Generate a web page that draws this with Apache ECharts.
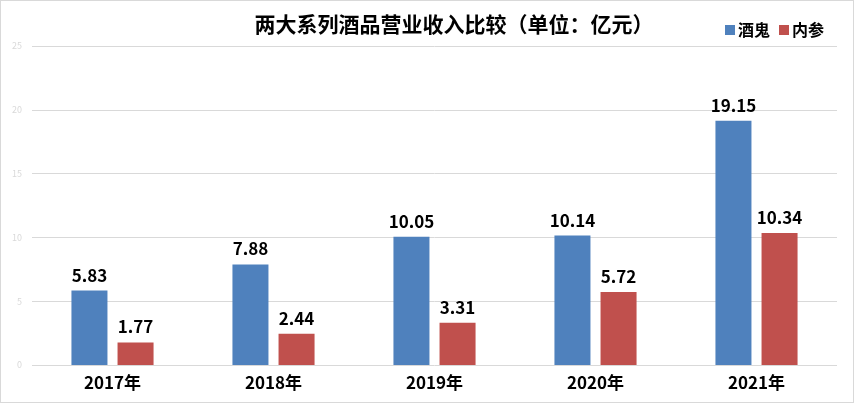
<!DOCTYPE html>
<html>
<head>
<meta charset="utf-8">
<script src="https://cdn.jsdelivr.net/npm/echarts@6/dist/echarts.min.js"></script>
<style>
html, body { margin: 0; padding: 0; background: #fff; }
#chart { width: 852px; height: 401px; border: 1px solid #d9d9d9; }
</style>
</head>
<body>
<div id="chart"></div>
<script>
var years = ['2017年', '2018年', '2019年', '2020年', '2021年'];
var jiugui = [5.83, 7.88, 10.05, 10.14, 19.15];
var neican = [1.77, 2.44, 3.31, 5.72, 10.34];
var seriesNames = ['酒鬼', '内参'];

var labelStyle = {
	show: true,
	position: 'top',
	distance: 7,
	color: '#000',
	fontSize: 17,
	fontWeight: 'bold',
	fontFamily: 'Noto Sans CJK SC'
};

var option = {
	animation: false,
	textStyle: { fontFamily: 'Noto Sans CJK SC' },
	title: {
		text: '两大系列酒品营业收入比较（单位：亿元）',
		left: 448,
		textAlign: 'center',
		top: 8,
		textStyle: { fontSize: 21, fontWeight: 'bold', color: '#000' }
	},
	legend: {
		data: seriesNames,
		right: 24,
		top: 16,
		itemWidth: 10,
		itemHeight: 10,
		itemGap: 9,
		icon: 'rect',
		textStyle: { fontSize: 16, fontWeight: 'bold', color: '#000', padding: [0, 0, 0, -2] }
	},
	grid: { left: 31, right: 16, top: 45, bottom: 37 },
	xAxis: {
		type: 'category',
		data: years,
		axisLine: { show: false },
		axisTick: { show: false },
		axisLabel: { fontSize: 17, fontWeight: 'bold', color: '#000', margin: 9 }
	},
	yAxis: {
		type: 'value',
		min: 0,
		max: 25,
		interval: 5,
		axisLabel: { fontSize: 9, color: '#d9d9d9', margin: 10 },
		splitLine: { lineStyle: { color: '#d9d9d9', width: 1 } }
	},
	series: [
		{
			name: seriesNames[0],
			type: 'bar',
			data: jiugui,
			barGap: '28%',
			barCategoryGap: '49%',
			itemStyle: { color: '#4f81bd' },
			label: labelStyle
		},
		{
			name: seriesNames[1],
			type: 'bar',
			data: neican,
			itemStyle: { color: '#c0504d' },
			label: labelStyle
		}
	]
};

var chart = echarts.init(document.getElementById('chart'));
chart.setOption(option, true);
</script>
</body>
</html>
